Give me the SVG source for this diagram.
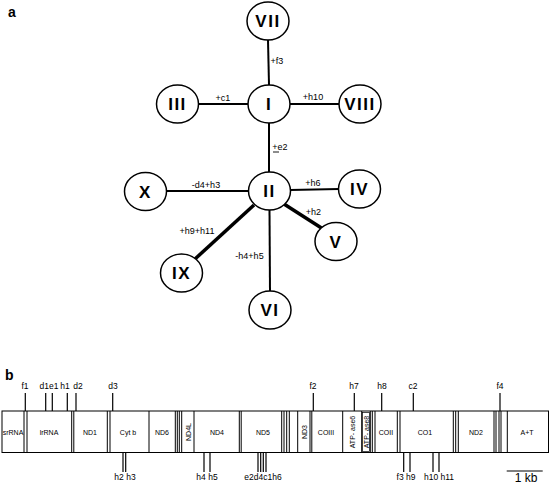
<svg xmlns="http://www.w3.org/2000/svg" width="550" height="485" viewBox="0 0 550 485">
<style>
.node ellipse{fill:#fff;stroke:#000;stroke-width:1.5}
.node text{font-family:"Liberation Sans",Arial,sans-serif;font-weight:bold;font-size:17px;text-anchor:middle;letter-spacing:1.5px}
.conn line{stroke:#000;stroke-width:2}
.conn line.thick{stroke-width:3.5}
.lbl{font-family:"Liberation Sans",Arial,sans-serif;font-size:9px;text-anchor:middle;fill:#000}
.panel{font-family:"Liberation Sans",Arial,sans-serif;font-weight:bold;font-size:14px}
.gene{font-family:"Liberation Sans",Arial,sans-serif;font-size:7px;text-anchor:middle;fill:#000}
.div line{stroke:#000;stroke-width:1}
.tick line{stroke:#000;stroke-width:1.2}
.site{font-family:"Liberation Sans",Arial,sans-serif;font-size:8.5px;text-anchor:middle;fill:#000}
</style>
<rect width="550" height="485" fill="#fff"/>
<text class="panel" x="8" y="17">a</text>
<g class="conn">
<line x1="268" y1="40" x2="269" y2="85"/>
<line x1="198" y1="104" x2="248" y2="104"/>
<line x1="290" y1="104" x2="339" y2="104"/>
<line x1="269" y1="123" x2="269" y2="172"/>
<line x1="166" y1="191" x2="248" y2="191"/>
<line x1="290" y1="190" x2="339" y2="189"/>
<line class="thick" x1="284" y1="204" x2="323" y2="229"/>
<line class="thick" x1="254" y1="205" x2="195" y2="259"/>
<line x1="269.5" y1="210" x2="270" y2="291"/>
</g>
<g id="n-VII" class="node"><ellipse cx="268" cy="21" rx="21" ry="19"/><text x="268" y="27">VII</text></g>
<g id="n-I" class="node"><ellipse cx="269" cy="104" rx="21" ry="19"/><text x="269" y="110">I</text></g>
<g id="n-III" class="node"><ellipse cx="177.5" cy="104" rx="21" ry="19"/><text x="177.5" y="110">III</text></g>
<g id="n-VIII" class="node"><ellipse cx="360" cy="104" rx="21" ry="19"/><text x="360" y="110">VIII</text></g>
<g id="n-II" class="node"><ellipse cx="269.5" cy="191" rx="21" ry="19"/><text x="269.5" y="197">II</text></g>
<g id="n-X" class="node"><ellipse cx="145.5" cy="191.5" rx="21" ry="19"/><text x="145.5" y="197.5">X</text></g>
<g id="n-IV" class="node"><ellipse cx="359.5" cy="189" rx="21" ry="19"/><text x="359.5" y="195">IV</text></g>
<g id="n-V" class="node"><ellipse cx="336" cy="241.5" rx="21" ry="19"/><text x="336" y="247.5">V</text></g>
<g id="n-IX" class="node"><ellipse cx="181.5" cy="273" rx="21" ry="19"/><text x="181.5" y="279">IX</text></g>
<g id="n-VI" class="node"><ellipse cx="270" cy="310" rx="21" ry="19"/><text x="270" y="316">VI</text></g>
<g id="labels-a">
<text class="lbl" x="277" y="64">+f3</text>
<text class="lbl" x="223" y="101">+c1</text>
<text class="lbl" x="313" y="100">+h10</text>
<text class="lbl" x="280" y="150">+e2</text>
<line x1="273" y1="152" x2="279" y2="152" stroke="#000" stroke-width="0.9"/>
<text class="lbl" x="206" y="188">-d4+h3</text>
<text class="lbl" x="313" y="186">+h6</text>
<text class="lbl" x="313.5" y="215">+h2</text>
<text class="lbl" x="197" y="234">+h9+h11</text>
<text class="lbl" x="249.5" y="259">-h4+h5</text>
</g>
<text class="panel" x="5" y="380">b</text>
<g id="genemap">
<rect x="2" y="411" width="546.5" height="41.5" fill="#fff" stroke="#000" stroke-width="1"/>
<g class="div">
<line x1="24" y1="411" x2="24" y2="452.5"/><line x1="27" y1="411" x2="27" y2="452.5"/>
<line x1="71.7" y1="411" x2="71.7" y2="452.5"/><line x1="73.8" y1="411" x2="73.8" y2="452.5"/>
<line x1="107.3" y1="411" x2="107.3" y2="452.5"/><line x1="110" y1="411" x2="110" y2="452.5"/>
<line x1="149" y1="411" x2="149" y2="452.5"/>
<line x1="175.3" y1="411" x2="175.3" y2="452.5"/><line x1="177.3" y1="411" x2="177.3" y2="452.5"/><line x1="179.3" y1="411" x2="179.3" y2="452.5"/>
<line x1="181.7" y1="411" x2="181.7" y2="452.5"/>
<line x1="194" y1="411" x2="194" y2="452.5"/>
<line x1="239.3" y1="411" x2="239.3" y2="452.5"/><line x1="241.2" y1="411" x2="241.2" y2="452.5"/>
<line x1="281.7" y1="411" x2="281.7" y2="452.5"/><line x1="284" y1="411" x2="284" y2="452.5"/><line x1="286.7" y1="411" x2="286.7" y2="452.5"/><line x1="289.3" y1="411" x2="289.3" y2="452.5"/>
<line x1="297.7" y1="411" x2="297.7" y2="452.5"/>
<line x1="310" y1="411" x2="310" y2="452.5"/><line x1="311.8" y1="411" x2="311.8" y2="452.5"/>
<line x1="342.7" y1="411" x2="342.7" y2="452.5"/>
<line x1="361.7" y1="411" x2="361.7" y2="452.5"/>
<line x1="370.3" y1="411" x2="370.3" y2="452.5"/><line x1="372.3" y1="411" x2="372.3" y2="452.5"/>
<line x1="375" y1="411" x2="375" y2="452.5"/>
<line x1="397.3" y1="411" x2="397.3" y2="452.5"/><line x1="400" y1="411" x2="400" y2="452.5"/>
<line x1="453.3" y1="411" x2="453.3" y2="452.5"/><line x1="455.7" y1="411" x2="455.7" y2="452.5"/><line x1="458.3" y1="411" x2="458.3" y2="452.5"/>
<line x1="494" y1="411" x2="494" y2="452.5"/><line x1="496" y1="411" x2="496" y2="452.5"/><line x1="499" y1="411" x2="499" y2="452.5"/><line x1="501" y1="411" x2="501" y2="452.5"/>
<line x1="507.3" y1="411" x2="507.3" y2="452.5"/>
</g>
<text class="gene" x="13" y="434.5">srRNA</text>
<text class="gene" x="49" y="434.5">lrRNA</text>
<text class="gene" x="90" y="434.5">ND1</text>
<text class="gene" x="128" y="434.5">Cyt  b</text>
<text class="gene" x="162" y="434.5">ND6</text>
<text class="gene" transform="translate(190.5,432) rotate(-90)">ND4L</text>
<text class="gene" x="217" y="434.5">ND4</text>
<text class="gene" x="263" y="434.5">ND5</text>
<text class="gene" transform="translate(306.5,432) rotate(-90)">ND3</text>
<text class="gene" x="326" y="434.5">COIII</text>
<text class="gene" transform="translate(354.5,432) rotate(-90)">ATP- ase6</text>
<rect x="362.5" y="412.5" width="7" height="39" fill="none" stroke="#000" stroke-width="0.7"/>
<text class="gene" transform="translate(368.5,432) rotate(-90)">ATP- ase8</text>
<text class="gene" x="386" y="434.5">COII</text>
<text class="gene" x="425" y="434.5">CO1</text>
<text class="gene" x="476" y="434.5">ND2</text>
<text class="gene" x="527" y="434.5">A+T</text>
</g>
<g id="sites" class="tick">
<line x1="25.3" y1="393" x2="25.3" y2="411"/>
<line x1="45.7" y1="393" x2="45.7" y2="411"/>
<line x1="52.3" y1="393" x2="52.3" y2="411"/>
<line x1="67.3" y1="393" x2="67.3" y2="411"/>
<line x1="76" y1="393" x2="76" y2="411"/>
<line x1="112.7" y1="393" x2="112.7" y2="411"/>
<line x1="313.3" y1="393" x2="313.3" y2="411"/>
<line x1="354.3" y1="393" x2="354.3" y2="411"/>
<line x1="381.7" y1="393" x2="381.7" y2="411"/>
<line x1="413.3" y1="393" x2="413.3" y2="411"/>
<line x1="500" y1="393" x2="500" y2="411"/>
<line x1="123" y1="452.5" x2="123" y2="472"/>
<line x1="125.7" y1="452.5" x2="125.7" y2="472"/>
<line x1="204" y1="452.5" x2="204" y2="472"/>
<line x1="210" y1="452.5" x2="210" y2="472"/>
<line x1="258" y1="452.5" x2="258" y2="472"/>
<line x1="260.7" y1="452.5" x2="260.7" y2="472"/>
<line x1="263.3" y1="452.5" x2="263.3" y2="472"/>
<line x1="266" y1="452.5" x2="266" y2="472"/>
<line x1="403.7" y1="452.5" x2="403.7" y2="472"/>
<line x1="410" y1="452.5" x2="410" y2="472"/>
<line x1="433" y1="452.5" x2="433" y2="472"/>
<line x1="439" y1="452.5" x2="439" y2="472"/>
<line x1="506.7" y1="471" x2="542.7" y2="471" stroke-width="1.5"/>
</g>
<g id="site-labels">
<text class="site" x="25" y="389">f1</text>
<text class="site" x="49" y="389">d1e1</text>
<text class="site" x="65" y="389">h1</text>
<text class="site" x="78" y="389">d2</text>
<text class="site" x="113" y="389">d3</text>
<text class="site" x="313" y="389">f2</text>
<text class="site" x="354" y="389">h7</text>
<text class="site" x="382" y="389">h8</text>
<text class="site" x="413" y="389">c2</text>
<text class="site" x="500" y="389">f4</text>
<text class="site" x="125" y="480">h2 h3</text>
<text class="site" x="207" y="480">h4 h5</text>
<text class="site" x="263" y="480">e2d4c1h6</text>
<text class="site" x="406" y="480">f3 h9</text>
<text class="site" x="439" y="480">h10 h11</text>
<text x="526" y="482" font-family="Liberation Sans, Arial, sans-serif" font-size="12" text-anchor="middle">1 kb</text>
</g>
</svg>
